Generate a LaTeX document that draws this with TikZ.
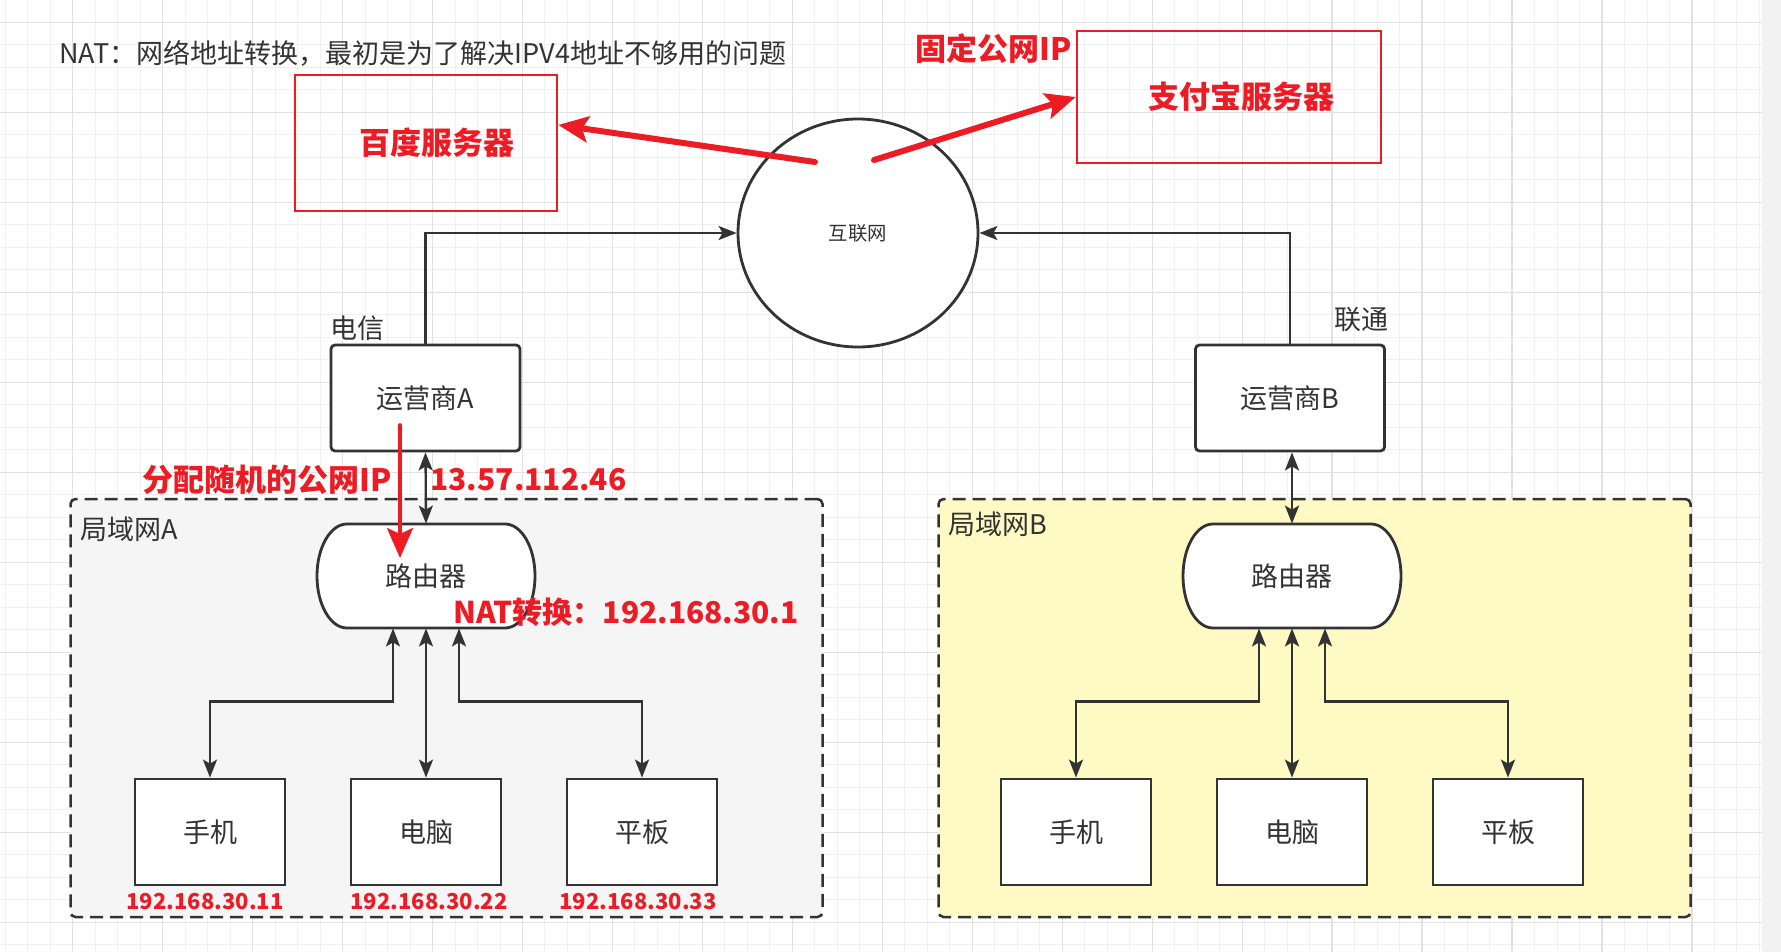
\documentclass[tikz,border=0pt]{standalone}
\usepackage{fontspec}
\setmainfont{Noto Sans CJK SC}
\usetikzlibrary{shapes.geometric, arrows.meta, calc}

\definecolor{ink}{HTML}{333333}
\definecolor{alert}{HTML}{ED1C24}
\definecolor{lanAfill}{HTML}{F5F5F5}
\definecolor{lanBfill}{HTML}{FFF9C4}
\definecolor{gridminor}{HTML}{F0F0F0}
\definecolor{gridmajor}{HTML}{E2E2E2}
\definecolor{sidestrip}{HTML}{F2F2F2}

% router outline: flat top and bottom, half-ellipse sides
\newcommand{\routeroutline}[1]{%
  \draw[draw=ink, line width=1.4pt, fill=white]
    ($(#1)+(-79,-52)$) -- ($(#1)+(79,-52)$)
    arc[start angle=-90, end angle=90, x radius=30, y radius=52]
    -- ($(#1)+(-79,52)$)
    arc[start angle=90, end angle=270, x radius=30, y radius=52] -- cycle;}

\begin{document}
\begin{tikzpicture}[x=0.5pt, y=-0.5pt,
  txt/.style={font=\fontsize{13.5pt}{16pt}\selectfont, text=ink, inner sep=0pt},
  redtxt/.style={font=\fontsize{15.5pt}{18pt}\selectfont\bfseries, text=alert, inner sep=0pt},
  iptxt/.style={font=\fontsize{11pt}{13pt}\selectfont\bfseries, text=alert, inner sep=0pt},
  box/.style={txt, draw=ink, line width=1.4pt, fill=white},
  opbox/.style={box, rounded corners=2pt, minimum width=94.5pt, minimum height=53pt},
  device/.style={box, minimum width=75pt, minimum height=53pt},
  router/.style={txt, minimum width=109pt, minimum height=52pt},
  srvbox/.style={redtxt, draw=alert, line width=1.3pt},
  lan/.style={draw=ink, line width=1.25pt, dash pattern=on 6.5pt off 3.5pt,
              rounded corners=2.5pt, minimum width=376pt, minimum height=209pt},
  link/.style={draw=ink, line width=1.15pt, -{Stealth[length=9pt, width=7pt, inset=2pt]}},
  dlink/.style={link, {Stealth[length=9pt, width=7pt, inset=2pt]}-{Stealth[length=9pt, width=7pt, inset=2pt]}},
  redarrow/.style={draw=alert, line width=3pt, line cap=round,
                   -{Stealth[length=15pt, width=13pt, inset=3pt]}}
]
  \useasboundingbox (0,0) rectangle (1781,952);
  \fill[white] (0,0) rectangle (1762,952);
  \fill[sidestrip] (1762,0) rectangle (1781,952);

  % grid
  \foreach \k in {-3,...,75}
    \draw[gridminor, line width=0.5pt] ({72.7+22.49*\k},0) -- ({72.7+22.49*\k},952);
  \foreach \k in {-1,...,41}
    \draw[gridminor, line width=0.5pt] (0,{22.4+22.5*\k}) -- (1762,{22.4+22.5*\k});
  \foreach \k in {0,...,18}
    \draw[gridmajor, line width=0.7pt] ({72.7+89.96*\k},0) -- ({72.7+89.96*\k},952);
  \foreach \k in {0,...,10}
    \draw[gridmajor, line width=0.7pt] (0,{22.4+90*\k}) -- (1762,{22.4+90*\k});

  % local networks
  \node[lan, fill=lanAfill] (lanA) at (446.5,708) {};
  \node[lan, fill=lanBfill] (lanB) at (1314.5,708) {};
  \node[txt, anchor=west] (lanAlbl) at (80,529) {局域网A};
  \node[txt, anchor=west] (lanBlbl) at (948,524) {局域网B};

  % routers
  \routeroutline{426,576}
  \node[router] (ra) at (426,576) {路由器};
  \routeroutline{1292,576}
  \node[router] (rb) at (1292,576) {路由器};

  % devices
  \node[device] (phoneA) at (210,832)  {手机};
  \node[device] (pcA)    at (426,832)  {电脑};
  \node[device] (padA)   at (642,832)  {平板};
  \node[device] (phoneB) at (1076,832) {手机};
  \node[device] (pcB)    at (1292,832) {电脑};
  \node[device] (padB)   at (1508,832) {平板};

  % carriers and internet
  \node[opbox] (opA) at (425.5,398) {运营商A};
  \node[opbox] (opB) at (1290,398)  {运营商B};
  \node[txt] (telecom) at (357,328)  {电信};
  \node[txt] (unicom)  at (1361,320) {联通};
  \node[ellipse, draw=ink, line width=1.4pt, fill=white, inner sep=0pt,
        minimum width=120pt, minimum height=114pt,
        font=\fontsize{9.7pt}{11pt}\selectfont, text=ink] (net) at (858,233) {互联网};

  % servers
  \node[srvbox, minimum width=131pt, minimum height=68pt] (baidu)  at (426,143) {\hspace*{11pt}百度服务器};
  \node[srvbox, minimum width=152pt, minimum height=66pt] (alipay) at (1229,97) {\hspace*{12pt}支付宝服务器};

  \node[txt, anchor=west] (title) at (59,53) {NAT：网络地址转换，最初是为了解决IPV4地址不够用的问题};

  % connectors
  \draw[link] (opA.north) |- (net.west);
  \draw[link] (opB.north) |- (net.east);
  \draw[dlink] (opA.south) -- (ra.north);
  \draw[dlink] (opB.south -| rb.north) -- (rb.north);

  \draw[dlink] (phoneA.north) -- ++(0,-76) -| ($(ra.south)+(-33,0)$);
  \draw[dlink] (pcA.north) -- (ra.south);
  \draw[dlink] (padA.north) -- ++(0,-76) -| ($(ra.south)+(33,0)$);
  \draw[dlink] (phoneB.north) -- ++(0,-76) -| ($(rb.south)+(-33,0)$);
  \draw[dlink] (pcB.north) -- (rb.south);
  \draw[dlink] (padB.north) -- ++(0,-76) -| ($(rb.south)+(33,0)$);

  % red notes
  \coordinate (toBaidu)  at (815,162);
  \coordinate (toAlipay) at (874,160);
  \coordinate (natFrom)  at (400,425);
  \coordinate (natTo)    at (400,558);
  \draw[redarrow] (toBaidu) -- ($(baidu.north east)!0.37!(baidu.south east)$);
  \draw[redarrow] (toAlipay) -- (alipay.west);
  \draw[redarrow, line width=1.9pt] (natFrom) -- (natTo);

  \node[redtxt] (fixedIP) at (994,49) {固定公网IP};
  \node[redtxt, anchor=east] (assignLbl) at (392,480) {分配随机的公网IP};
  \node[redtxt, anchor=west, font=\fontsize{15pt}{18pt}\selectfont\bfseries] (publicIP) at (430,480) {13.57.112.46};
  \node[redtxt, anchor=west, font=\fontsize{15pt}{18pt}\selectfont\bfseries] (natLbl)   at (453,612) {NAT转换：192.168.30.1};

  \node[iptxt] (ipPhoneA) at (205,902) {192.168.30.11};
  \node[iptxt] (ipPcA)    at (429,902) {192.168.30.22};
  \node[iptxt] (ipPadA)   at (638,902) {192.168.30.33};
\end{tikzpicture}
\end{document}
